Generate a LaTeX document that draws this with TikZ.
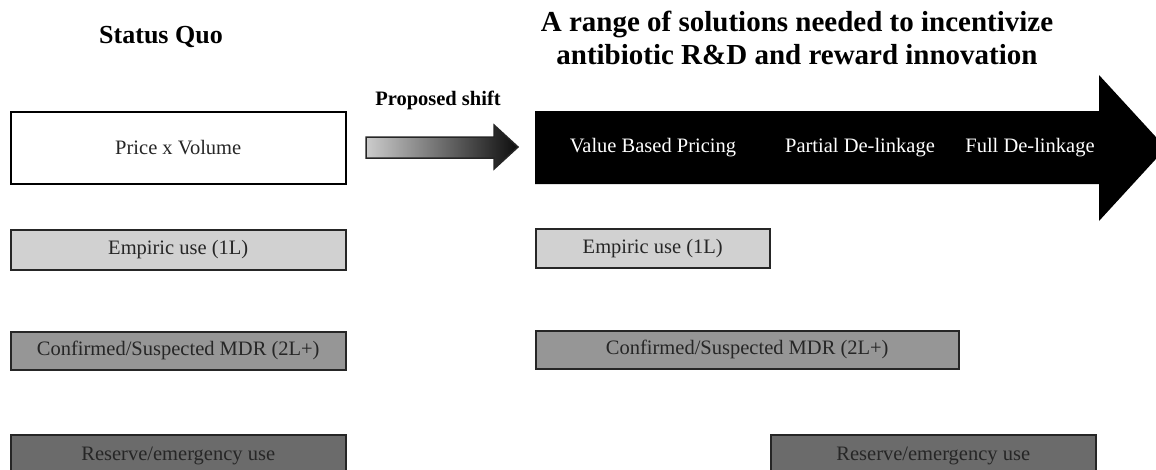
\documentclass[tikz,border=0pt]{standalone}
\usepackage{fontspec}
\setmainfont{Liberation Serif}
\usetikzlibrary{positioning}

\begin{document}
\begin{tikzpicture}[x=1pt,y=-1pt,
    tier/.style={draw=black!85,line width=1.5pt,inner sep=0pt,anchor=north west,
      text=black!85,font=\fontsize{20.5}{24}\selectfont},
    heading/.style={font=\bfseries\fontsize{26}{33}\selectfont,align=center},
    steplabel/.style={text=white,font=\fontsize{20.5}{24}\selectfont}]

      \useasboundingbox (0,0) rectangle (1156,469);
      \clip (0,0) rectangle (1156,469);

      % headings
      \node[heading] (statusquo) at (161,37) {Status Quo};
      \node[heading,font=\bfseries\fontsize{29}{33}\selectfont] (title) at (797,38)
        {A range of solutions needed to incentivize\\antibiotic R\&D and reward innovation};
      \node[heading,font=\bfseries\fontsize{20.5}{24}\selectfont] (shift) at (438,100) {Proposed shift};

      % status quo column
      \node[tier,fill=white,draw=black,minimum width=335pt,minimum height=72pt] (price) at (10,111) {Price x Volume};
      \node[tier,fill=black!18,minimum width=335pt,minimum height=40pt] (empiric) at (10,229) {Empiric use (1L)};
      \node[tier,fill=black!41,minimum width=335pt,minimum height=38pt] (mdr) at (10,331) {Confirmed/Suspected MDR (2L+)};
      \node[tier,fill=black!58,minimum width=335pt,minimum height=42pt] (reserve) at (10,434) {Reserve/emergency use};

      % shift arrow
      \draw[black!85,line width=1.5pt,left color=black!20,right color=black!95]
        (366,137) -- (494,137) -- (494,125) -- (518,147) -- (494,169) -- (494,158) -- (366,158) -- cycle;

      % range of solutions
      \fill (535,111) -- (1099,111) -- (1099,75) -- (1166,148) -- (1099,221) -- (1099,184) -- (535,184) -- cycle;
      \node[steplabel] (vbp) at (653,148) {Value Based Pricing};
      \node[steplabel] (partial) at (860,148) {Partial De-linkage};
      \node[steplabel] (full) at (1030,148) {Full De-linkage};

      \node[tier,fill=black!18,minimum width=234pt,minimum height=39pt] (empiric2) at (535,228) {Empiric use (1L)};
      \node[tier,fill=black!41,minimum width=423pt,minimum height=38pt] (mdr2) at (535,330) {Confirmed/Suspected MDR (2L+)};
      \node[tier,fill=black!58,minimum width=325pt,minimum height=42pt] (reserve2) at (770,434) {Reserve/emergency use};

    \end{tikzpicture}
\end{document}
